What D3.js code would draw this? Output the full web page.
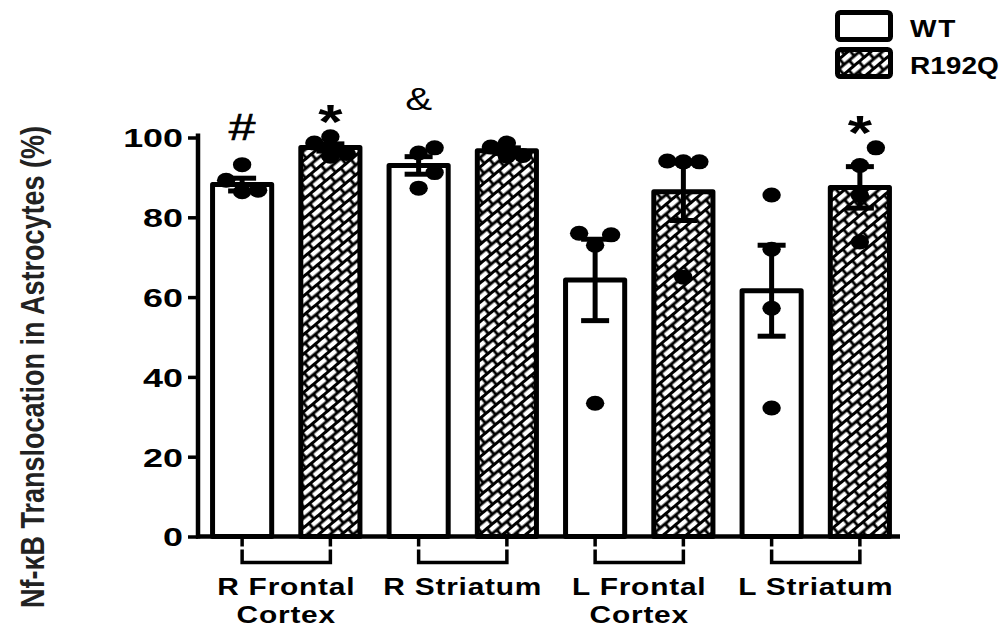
<!DOCTYPE html>
<html>
<head>
<meta charset="utf-8">
<script src="https://cdn.jsdelivr.net/npm/d3@7/dist/d3.min.js"></script>
<style>
  body { margin: 0; background: #fff; }
  svg { display: block; }
  text { font-family: "Liberation Sans", Arial, sans-serif; fill: #000; }
</style>
</head>
<body>
<svg id="chart" width="1005" height="630"></svg>
<script>
// ---- data ----
const regions = ["R Frontal Cortex", "R Striatum", "L Frontal Cortex", "L Striatum"];
const regionLines = [["R Frontal", "Cortex"], ["R Striatum"], ["L Frontal", "Cortex"], ["L Striatum"]];
const genotypes = ["WT", "R192Q"];

const wtMean = [88.2, 93.0, 64.3, 61.6];
const wtSem = [1.6, 2.2, 10.2, 11.4];
const r192qMean = [97.5, 96.7, 86.4, 87.5];
const r192qSem = [0.9, 0.7, 7.2, 5.2];

const wtPoints = [
  [93.2, 89.3, 86.4, 86.8],
  [97.4, 96.1, 87.3, 91.2],
  [75.6, 76.0, 73.0, 33.4],
  [85.6, 72.0, 57.2, 32.2]
];
const r192qPoints = [
  [98.6, 100.2, 96.0, 95.3],
  [97.6, 98.6, 95.5, 95.3],
  [93.9, 94.1, 93.9, 65.0],
  [97.4, 93.0, 73.8, 85.5]
];

const wtMarks = ["#", "&", "", ""];
const r192qMarks = ["*", "", "", "*"];

const yTicks = [0, 20, 40, 60, 80, 100];
const yLabel = "Nf-\u03baB Translocation in Astrocytes (%)";

// ---- layout ----
const SX = 1.3;               // horizontal text stretch
const svg = d3.select("#chart");
const plot = { left: 198, right: 904, top: 137.5, bottom: 536.5 };

const x0 = d3.scaleBand().domain(regions).range([plot.left, plot.right]).padding(0);
const x1 = d3.scaleBand().domain(genotypes).range([0, x0.bandwidth()])
  .paddingInner(0.33).paddingOuter(0.165);
const y = d3.scaleLinear().domain([0, 100]).range([plot.bottom, plot.top]);

const rows = regions.flatMap((r, i) => [
  { region: r, g: "WT", mean: wtMean[i], sem: wtSem[i], pts: wtPoints[i], mark: wtMarks[i] },
  { region: r, g: "R192Q", mean: r192qMean[i], sem: r192qSem[i], pts: r192qPoints[i], mark: r192qMarks[i] }
]);
const cx = d => x0(d.region) + x1(d.g) + x1.bandwidth() / 2;

// ---- brick hatch ----
const defs = svg.append("defs");
const bw = 10.5, bh = 4.6, gap = 2.8;
const pw = bw + gap, ph = 2 * (bh + gap);
const pat = defs.append("pattern")
  .attr("id", "brick").attr("patternUnits", "userSpaceOnUse")
  .attr("width", pw).attr("height", ph)
  .attr("patternTransform", "rotate(-40)");
pat.append("rect").attr("width", pw).attr("height", ph).attr("fill", "#000");
[[gap / 2, gap / 2], [gap / 2 - pw / 2, gap / 2 + ph / 2], [gap / 2 + pw / 2, gap / 2 + ph / 2]]
  .forEach(([bx, by]) => pat.append("rect")
    .attr("x", bx).attr("y", by).attr("width", bw).attr("height", bh)
    .attr("rx", 0.6).attr("fill", "#fff"));

const fillFor = g => g === "WT" ? "#fff" : "url(#brick)";

// ---- bars ----
svg.append("g").selectAll("rect").data(rows).join("rect")
  .attr("x", d => cx(d) - x1.bandwidth() / 2)
  .attr("width", x1.bandwidth())
  .attr("y", d => y(d.mean))
  .attr("height", d => y(0) - y(d.mean))
  .attr("fill", d => fillFor(d.g))
  .attr("stroke", "#000").attr("stroke-width", 5).attr("stroke-linejoin", "round");

// ---- error bars ----
const capHalf = 14;
const eb = svg.append("g").attr("stroke", "#000").attr("stroke-width", 5);
rows.forEach(d => {
  const xc = cx(d), yHi = y(d.mean + d.sem), yLo = y(d.mean - d.sem);
  eb.append("line").attr("x1", xc).attr("x2", xc).attr("y1", yHi).attr("y2", yLo);
  eb.append("line").attr("x1", xc - capHalf).attr("x2", xc + capHalf).attr("y1", yHi).attr("y2", yHi);
  eb.append("line").attr("x1", xc - capHalf).attr("x2", xc + capHalf).attr("y1", yLo).attr("y2", yLo);
});

// ---- scatter points, nudged sideways when they crowd each other ----
const rx = 9.2, ry = 7.5, spread = 16, crowd = 18;
const dots = svg.append("g");
rows.forEach(d => {
  const placed = [];
  const sorted = d.pts.slice().sort((a, b) => a - b);
  sorted.forEach(v => {
    const py = y(v);
    const slots = [0, 1, -1].map(t => t * spread);
    const room = px => d3.min(placed, p => Math.abs(p.x - px) >= spread ? Infinity : Math.abs(p.y - py)) ?? Infinity;
    let off = slots.find(px => room(px) >= crowd);
    if (off === undefined) off = slots.reduce((a, b) => room(b) > room(a) ? b : a);
    placed.push({ x: off, y: py });
  });
  dots.selectAll(null).data(placed).join("ellipse")
    .attr("cx", p => cx(d) + p.x).attr("cy", p => p.y)
    .attr("rx", rx).attr("ry", ry).attr("fill", "#000");
});

// ---- significance marks ----
const markStyle = {
  "#": { size: 37, weight: "normal", lift: 17 },
  "&": { size: 31, weight: "normal", lift: 30 },
  "*": { size: 48, weight: "bold", lift: -9 }
};
rows.filter(d => d.mark).forEach(d => {
  const s = markStyle[d.mark];
  const top = y(Math.max(d3.max(d.pts), d.mean + d.sem)) - ry;
  svg.append("text")
    .attr("transform", `translate(${cx(d)},${top - s.lift}) scale(${SX},1)`)
    .attr("text-anchor", "middle")
    .style("font-size", s.size + "px").style("font-weight", s.weight)
    .style("stroke", d.mark === "#" ? "#000" : "none").style("stroke-width", 0.6)
    .text(d.mark);
});

// ---- y axis ----
const yAxis = svg.append("g")
  .attr("transform", `translate(${plot.left},0)`)
  .call(d3.axisLeft(y).tickValues(yTicks).tickSize(10).tickSizeOuter(0).tickPadding(0));
yAxis.select(".domain").attr("stroke-width", 4.5).attr("d", `M0,${y(0) + 2}V${y(100) - 4}`);
yAxis.selectAll(".tick line").attr("stroke-width", 3.5);
yAxis.selectAll(".tick text")
  .attr("x", null).attr("dy", "0.36em")
  .attr("transform", `translate(-15,0) scale(1.38,1)`)
  .attr("text-anchor", "end")
  .style("font-size", "26px").style("font-weight", "bold").style("font-family", "'Liberation Sans', Arial, sans-serif");

// ---- x axis line and region brackets ----
svg.append("line")
  .attr("x1", plot.left - 2).attr("x2", plot.right - 4)
  .attr("y1", y(0)).attr("y2", y(0))
  .attr("stroke", "#000").attr("stroke-width", 4.5);

const br = svg.append("g").attr("stroke", "#000").attr("stroke-width", 3.5).attr("fill", "none");
const tickTop = y(0) + 2, tickBot = y(0) + 10, brTop = y(0) + 13, brBot = y(0) + 26;
regions.forEach(r => {
  const xa = x0(r) + x1("WT") + x1.bandwidth() / 2;
  const xb = x0(r) + x1("R192Q") + x1.bandwidth() / 2;
  [xa, xb].forEach(xx => br.append("line").attr("x1", xx).attr("x2", xx).attr("y1", tickTop).attr("y2", tickBot));
  br.append("path").attr("d", `M${xa},${brTop}V${brBot}H${xb}V${brTop}`);
});

// ---- region labels ----
regions.forEach((r, i) => {
  const xc = x0(r) + x0.bandwidth() / 2;
  regionLines[i].forEach((line, j) => {
    svg.append("text")
      .attr("transform", `translate(${xc},${595 + j * 28}) scale(${SX},1)`)
      .attr("text-anchor", "middle")
      .style("font-size", "23px").style("font-weight", "bold")
      .style("letter-spacing", "0.6px")
      .text(line);
  });
});

// ---- y axis title ----
svg.append("text")
  .attr("transform", `translate(44,367) scale(1.2,1) rotate(-90)`)
  .attr("text-anchor", "middle")
  .style("font-size", "27px").style("font-weight", "bold").style("fill", "#222")
  .text(yLabel);

// ---- legend ----
const lg = svg.append("g");
genotypes.forEach((g, i) => {
  const top = 12.5 + i * 37;
  lg.append("rect")
    .attr("x", 837.5).attr("y", top).attr("width", 53).attr("height", 27).attr("rx", 3)
    .attr("fill", fillFor(g)).attr("stroke", "#000").attr("stroke-width", 5);
  lg.append("text")
    .attr("transform", `translate(910,${top + 24}) scale(1.22,1)`)
    .style("font-size", "23px").style("font-weight", "bold")
    .style("letter-spacing", g === "WT" ? "1.5px" : "0px")
    .text(g);
});
</script>
</body>
</html>
